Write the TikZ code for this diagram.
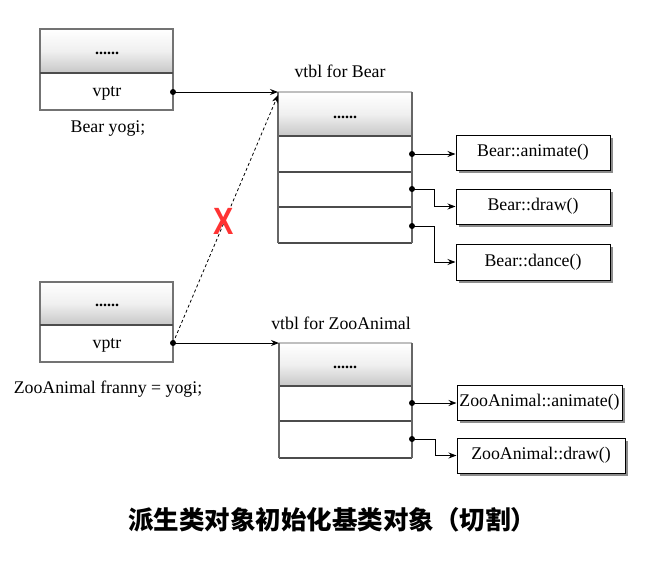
\documentclass[tikz,border=0pt]{standalone}
\usepackage{fontspec}
\setmainfont{Liberation Serif}
\newfontfamily\tms{Liberation Serif}
\newfontfamily\cjk{Noto Sans CJK SC}
\newfontfamily\xfont{Liberation Sans}
\usetikzlibrary{arrows.meta}
\tikzset{
  lbl/.style={font=\tms\fontsize{17.8}{19}\selectfont, inner sep=0pt},
  hdr/.style={top color=white, bottom color=black!22, middle color=black!6, draw=black!60, line width=1.3pt},
  cell/.style={draw=black!70, line width=1.2pt},
  fbox/.style={draw=black, line width=1pt, fill=white, font=\tms\fontsize{17.8}{19}\selectfont, inner sep=0pt},
  shad/.style={fill=black!45},
  conn/.style={line width=1pt, -{Stealth[length=8pt,width=6pt]}},
  dashconn/.style={line width=0.8pt, dashed, dash pattern=on 3pt off 2.5pt, -{Stealth[length=8pt,width=6pt]}},
  dotc/.style={circle, fill=black, inner sep=0pt, minimum size=6pt},
  dots/.style={font=\tms\bfseries\fontsize{16}{16}\selectfont, inner sep=0pt},
}
\begin{document}
\begin{tikzpicture}[x=1pt,y=-1pt]
\useasboundingbox (0,0) rectangle (664,562);
\fill[white] (0,0) rectangle (664,562);

% ---- Bear object
\shade[hdr] (40,29) rectangle (173,73);
\draw[cell,draw=black!55] (40,29) rectangle (173,110);
\draw[cell] (40,73) -- (173,73);
\node[dots] (bdots) at (107,53) {......};
\node[lbl] (bvptr) at (107,93) {vptr};
\node[lbl] (byogi) at (108,129) {Bear yogi;};
\node[dotc] (bptr) at (173,92) {};

% ---- ZooAnimal object
\shade[hdr] (40,282) rectangle (173,325);
\draw[cell,draw=black!55] (40,282) rectangle (173,362);
\draw[cell] (40,325) -- (173,325);
\node[dots] (zdots) at (107,305) {......};
\node[lbl] (zvptr) at (107,345) {vptr};
\node[lbl] (zfranny) at (108,389) {ZooAnimal franny = yogi;};
\node[dotc] (zptr) at (173,343) {};

% ---- vtbl for Bear
\node[lbl] (vbt) at (340,71) {vtbl for Bear};
\shade[hdr,draw=none] (278,92) rectangle (412,136);
\draw[cell,draw=black!25] (278,92) -- (412,92);
\draw[cell] (278,136) -- (412,136) (278,172) -- (412,172) (278,207) -- (412,207) (278,243) -- (412,243);
\draw[cell,draw=black!60] (278,92) -- (278,243) (412,92) -- (412,243);
\node[dots] (vbdots) at (345,117) {......};
\coordinate (vbtop) at (278,92);
\coordinate (vbtopd) at (278,95);
\node[dotc] (b1) at (412,154) {};
\node[dotc] (b2) at (412,189) {};
\node[dotc] (b3) at (412,226) {};

% ---- vtbl for ZooAnimal
\node[lbl] (vzt) at (341,323) {vtbl for ZooAnimal};
\shade[hdr,draw=none] (279,343) rectangle (412,386);
\draw[cell,draw=black!25] (279,343) -- (412,343);
\draw[cell] (279,386) -- (412,386) (279,421) -- (412,421) (279,458) -- (412,458);
\draw[cell,draw=black!60] (279,343) -- (279,458) (412,343) -- (412,458);
\node[dots] (vzdots) at (345,367) {......};
\coordinate (vztop) at (279,343);
\node[dotc] (z1) at (412,403) {};
\node[dotc] (z2) at (412,439) {};

% ---- function boxes with shadows
\fill[shad] (459,138) rectangle (613,173);
\node[fbox, minimum width=154pt, minimum height=35pt] (fa) at (533,152.5) {Bear::animate()};
\fill[shad] (459,192) rectangle (613,227);
\node[fbox, minimum width=154pt, minimum height=35pt] (fd) at (533,206.5) {Bear::draw()};
\fill[shad] (459,247) rectangle (613,283);
\node[fbox, minimum width=154pt, minimum height=36pt] (fn) at (533,262) {Bear::dance()};
\fill[shad] (460,388) rectangle (625,423);
\node[fbox, minimum width=165pt, minimum height=35pt] (za) at (539.5,402.5) {ZooAnimal::animate()};
\fill[shad] (460,441) rectangle (628,476);
\node[fbox, minimum width=168pt, minimum height=35pt] (zd) at (541,455.5) {ZooAnimal::draw()};

% ---- connectors
\draw[conn] (bptr.center) -- (vbtop);
\draw[conn] (zptr.center) -- (vztop);
\draw[dashconn] (zptr.center) -- (vbtopd);
\draw[conn] (b1.center) -- (fa.west |- b1);
\draw[conn] (b2.center) -- (434,189) |- (fd.west);
\draw[conn] (b3.center) -- (434,226) |- (fn.west);
\draw[conn] (z1.center) -- (za.west |- z1);
\draw[conn] (z2.center) -- (435,439) |- (zd.west);

% ---- red X
\node[inner sep=0pt, text=red!80, font=\xfont\bfseries\fontsize{38}{38}\selectfont] (xmark) at (224,221) {\scalebox{0.8}[1]{X}};

% ---- title
\node[inner sep=0pt, font=\cjk\bfseries\fontsize{25.5}{27}\selectfont] (title) at (332,520) {派生类对象初始化基类对象（切割）};
\end{tikzpicture}
\end{document}
